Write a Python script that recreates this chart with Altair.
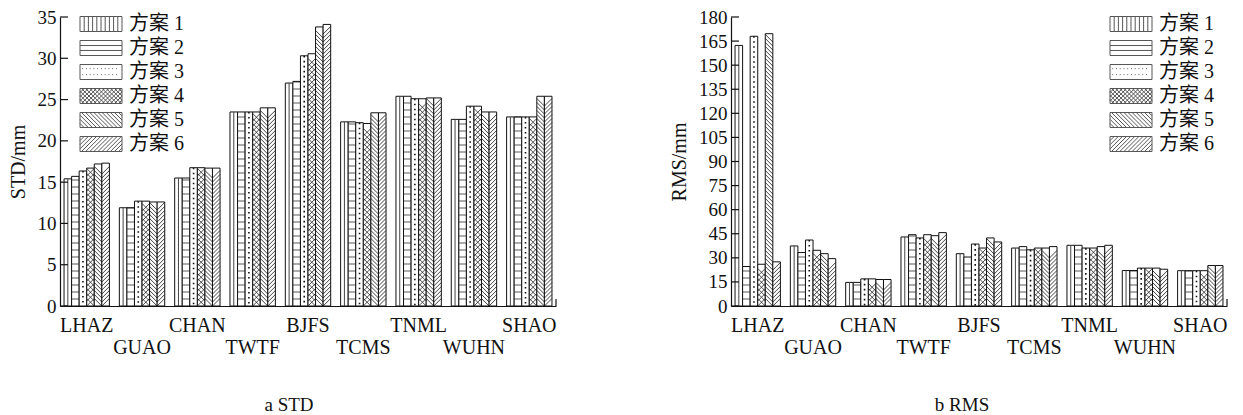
import json
import altair as alt
import pandas as pd

# ---------------- data ----------------
stations = ["LHAZ", "GUAO", "CHAN", "TWTF", "BJFS", "TCMS", "TNML", "WUHN", "SHAO"]
schemes = ["方案 1", "方案 2", "方案 3", "方案 4", "方案 5", "方案 6"]

std_1 = [15.4, 11.9, 15.5, 23.5, 27.0, 22.3, 25.4, 22.6, 22.9]
std_2 = [15.7, 11.9, 15.5, 23.5, 27.2, 22.3, 25.4, 22.6, 22.9]
std_3 = [16.35, 12.7, 16.75, 23.5, 30.3, 22.2, 25.1, 24.2, 22.9]
std_4 = [16.7, 12.7, 16.75, 23.5, 30.55, 22.1, 25.1, 24.2, 22.9]
std_5 = [17.2, 12.6, 16.7, 24.0, 33.8, 23.4, 25.2, 23.5, 25.4]
std_6 = [17.3, 12.6, 16.7, 24.0, 34.1, 23.4, 25.2, 23.5, 25.4]

rms_1 = [162.3, 37.4, 14.7, 43.0, 32.6, 36.1, 37.8, 22.1, 22.0]
rms_2 = [24.6, 33.3, 14.7, 44.4, 30.5, 37.0, 37.8, 22.1, 22.0]
rms_3 = [168.0, 41.1, 16.9, 42.4, 38.6, 35.0, 36.1, 23.6, 22.0]
rms_4 = [26.0, 34.7, 16.9, 44.4, 36.1, 36.1, 36.1, 23.6, 22.0]
rms_5 = [169.6, 32.6, 16.5, 43.8, 42.4, 36.1, 37.0, 23.6, 25.2]
rms_6 = [27.5, 29.5, 16.5, 45.7, 39.9, 37.0, 37.8, 22.9, 25.2]

std_ticks = [0, 5, 10, 15, 20, 25, 30, 35]
rms_ticks = [0, 15, 30, 45, 60, 75, 90, 105, 120, 135, 150, 165, 180]

# ---------------- style ----------------
PW, PH = 496, 289
SERIF = "Liberation Serif, Noto Sans CJK SC"
INK = "#111111"


def table(series):
    rows = []
    for s, vals in zip(schemes, series):
        for st, v in zip(stations, vals):
            rows.append({"station": st, "scheme": s, "value": v})
    return pd.DataFrame(rows)


# legend swatch paths (unit = sqrt(size)/2 = 7.5 px), swatch 42 x 15 px
R = 7.5
SW = 42 / R


def fmt(v):
    return f"{v:.3f}".rstrip("0").rstrip(".")


def diag(spacing, back=True):
    segs = []
    c = -2.0
    while c < SW + 2:
        tmin = max(0.0, -c)
        tmax = min(2.0, SW - c)
        if tmin < tmax:
            x0, x1 = c + tmin, c + tmax
            if back:
                y0, y1 = -1 + tmin, -1 + tmax
            else:
                y0, y1 = 1 - tmin, 1 - tmax
            segs.append(f"M{fmt(x0)},{fmt(y0)}L{fmt(x1)},{fmt(y1)}")
        c += spacing
    return "".join(segs)


rect = f"M0,-1H{fmt(SW)}V1H0Z"
p1 = rect + "".join(f"M{fmt(k * 0.56)},-1V1" for k in range(1, 10))
p2 = rect + "M0,-0.33H" + fmt(SW) + "M0,0.33H" + fmt(SW)
p3 = rect + "".join(
    f"M{fmt(0.3 + k * 0.5)},{y}h0.12" for y in ("-0.45", "0.35") for k in range(10)
)
p4 = rect + diag(0.55, True) + diag(0.55, False)
p5 = rect + diag(0.55, True)
p6 = rect + diag(0.55, False)
legend_paths = [p1, p2, p3, p4, p5, p6]

label_expr = (
    "indexof(" + json.dumps(stations) + ", datum.value) % 2 == 1 ? ['', datum.label] : datum.label"
)


def panel(df, ticks, ytitle, caption, cap_dx, leg_x):
    ymax = ticks[-1]
    ppu = PH / ymax  # pixels per data unit

    xaxis = alt.Axis(
        title=None, labelExpr=label_expr, labelAngle=0, labelFont=SERIF,
        labelFontSize=20, labelLineHeight=22, labelPadding=9, ticks=False,
        domainColor=INK, domainWidth=1.2, labelColor=INK, labelOverlap=False,
    )
    yaxis = alt.Axis(
        title=ytitle, values=ticks, ticks=False, grid=False, labelFont=SERIF,
        labelFontSize=19, labelPadding=4, labelColor=INK, titleFont=SERIF,
        titleFontSize=20, titleFontWeight="normal", titleColor=INK,
        titlePadding=9, domainColor=INK, domainWidth=1.2,
    )
    xscale = alt.Scale(type="band", paddingInner=0.18, paddingOuter=0.073)
    yscale = alt.Scale(domain=[0, ymax], nice=False, zero=True)

    X = alt.X("station:N", sort=stations, scale=xscale, axis=xaxis)
    XO = alt.XOffset("scheme:N", sort=schemes,
                     scale=alt.Scale(type="band", paddingInner=0, paddingOuter=0))

    def Yf(field):
        return alt.Y(field, scale=yscale, axis=yaxis, title=ytitle)

    base = alt.Chart(df)
    bars = base.mark_bar(fill="white", stroke=INK, strokeWidth=1).encode(
        x=X, xOffset=XO, y=Yf("value:Q"))

    def only(i):
        return base.transform_filter(alt.datum.scheme == schemes[i])

    # pattern 1: vertical stripe
    pat1 = only(0).mark_rule(color="#444", strokeWidth=1).encode(
        x=X, xOffset=XO, y=Yf("value:Q"), y2=alt.datum(0))

    # pattern 2: horizontal lines
    s2 = 7.0 / ppu
    pat2 = only(1).transform_calculate(
        k=f"sequence({s2}, datum.value, {s2})"
    ).transform_flatten(["k"]).mark_tick(color=INK, size=7, thickness=1).encode(
        x=X, xOffset=XO, y=Yf("k:Q"))

    # pattern 3: dots
    pat3 = only(2).mark_rule(color=INK, strokeWidth=1.6, strokeDash=[1.6, 3.4]).encode(
        x=X, xOffset=XO, y=Yf("value:Q"), y2=alt.datum(0))

    def symbols(i, path, step_px, width=0.8, color=INK):
        h = 3.75 / ppu
        st = step_px / ppu
        return only(i).transform_calculate(
            k=f"sequence({h}, datum.value - {h} + 1e-9, {st})"
        ).transform_flatten(["k"]).mark_point(
            shape=path, size=56, filled=False, strokeWidth=width, color=color, opacity=1
        ).encode(x=X, xOffset=XO, y=Yf("k:Q"))

    pat4 = symbols(3, "M-1,-1L1,1M-1,1L1,-1", 5.0, 0.8, "#222")
    pat5 = symbols(4, "M-1,-1L1,1", 4.0, 0.8)
    pat6 = symbols(5, "M-1,1L1,-1", 4.0, 0.8)

    tickdf = pd.DataFrame({"t": ticks})
    inner_ticks = alt.Chart(tickdf).mark_rule(color=INK, strokeWidth=1.2).encode(
        y=Yf("t:Q"), x=alt.value(0), x2=alt.value(8))

    end_tick = alt.Chart(pd.DataFrame({"a": [0]})).mark_rule(color=INK, strokeWidth=1.2).encode(
        x=alt.value(PW), y=alt.value(PH - 7), y2=alt.value(PH))

    legend_layer = base.transform_filter(alt.datum.station == stations[0]).mark_point(
        clip=True, filled=False, color=INK, size=225, strokeWidth=1
    ).encode(
        x=alt.value(10), y=alt.value(-80),
        shape=alt.Shape(
            "scheme:N", sort=schemes,
            scale=alt.Scale(domain=schemes, range=legend_paths),
            legend=alt.Legend(
                title=None, orient="none", legendX=leg_x, legendY=-3,
                labelFont=SERIF, labelFontSize=20, labelColor=INK,
                symbolSize=225, symbolStrokeWidth=1, symbolStrokeColor=INK,
                symbolFillColor="transparent", labelOffset=39, rowPadding=4,
            ),
        ),
    )

    return alt.layer(
        bars, pat1, pat2, pat3, pat4, pat5, pat6, inner_ticks, end_tick, legend_layer
    ).properties(
        width=PW, height=PH,
        title=alt.TitleParams(
            text=caption, orient="bottom", anchor="middle", frame="group", dx=cap_dx,
            offset=39, font=SERIF, fontSize=19, fontWeight="normal", color=INK,
        ),
    )


left = panel(table([std_1, std_2, std_3, std_4, std_5, std_6]), std_ticks,
             "STD/mm", "a STD", -19, 10)
right = panel(table([rms_1, rms_2, rms_3, rms_4, rms_5, rms_6]), rms_ticks,
              "RMS/mm", "b RMS", -17, 369)

chart = alt.hconcat(left, right, spacing=112).resolve_scale(
    shape="independent", x="independent", y="independent", xOffset="independent"
).resolve_legend(shape="independent").configure_view(stroke=None).configure_axis(
    titleFont=SERIF, titleFontSize=20, titleFontWeight="normal", titleColor=INK
).properties(
    padding=0, background="white"
)

chart.save("out.html", embed_options={"renderer": "svg", "actions": False})
